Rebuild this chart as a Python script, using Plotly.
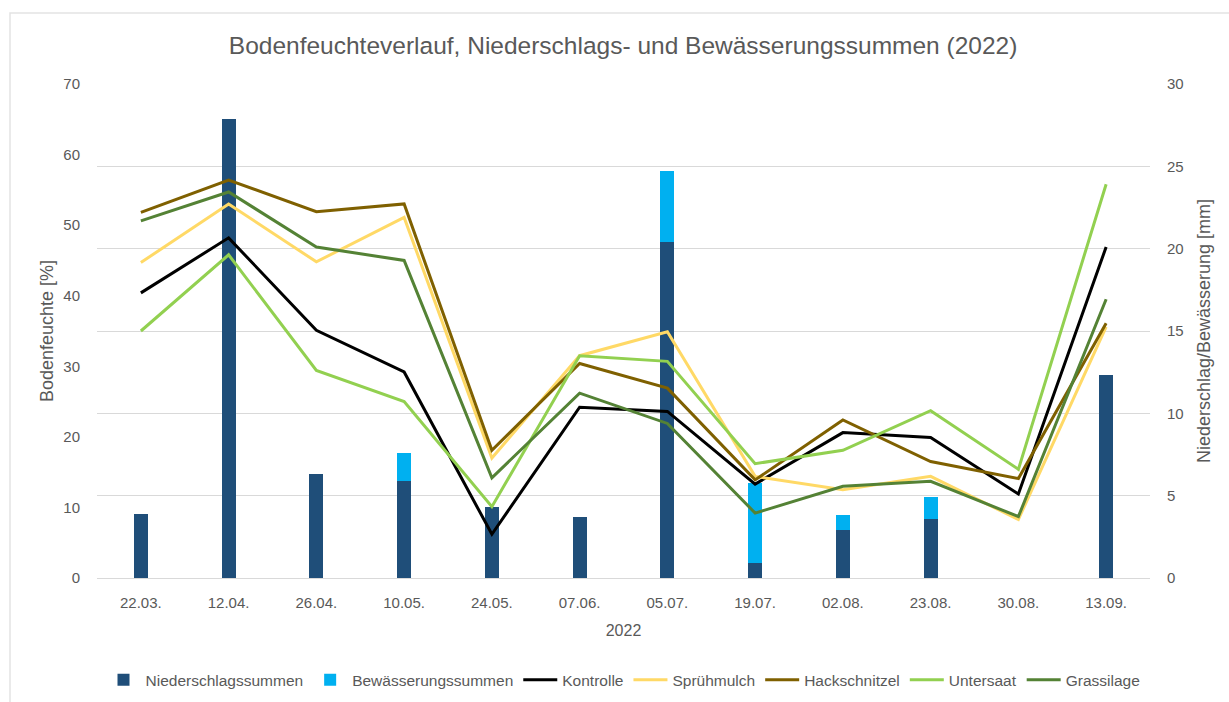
import plotly.graph_objects as go

# Messtermine 2022
termine = ["22.03.", "12.04.", "26.04.", "10.05.", "24.05.", "07.06.",
           "05.07.", "19.07.", "02.08.", "23.08.", "30.08.", "13.09."]

# Summen in mm (rechte Achse)
niederschlag = [3.9, 27.9, 6.3, 5.9, 4.3, 3.7, 20.4, 0.9, 2.9, 3.6, 0.0, 12.3]
bewaesserung = [0.0, 0.0, 0.0, 1.7, 0.0, 0.0, 4.3, 4.85, 0.9, 1.3, 0.0, 0.0]

# Bodenfeuchte in % (linke Achse)
kontrolle = [40.4, 48.2, 35.1, 29.2, 6.2, 24.2, 23.6, 13.3, 20.6, 19.9, 11.9, 46.9]
spruehmulch = [44.7, 53.0, 44.8, 51.1, 17.0, 31.5, 34.9, 14.4, 12.5, 14.4, 8.3, 35.6]
hackschnitzel = [51.8, 56.4, 51.9, 53.0, 18.1, 30.4, 26.9, 13.9, 22.4, 16.5, 14.1, 36.1]
untersaat = [35.0, 45.8, 29.4, 25.0, 10.1, 31.5, 30.7, 16.2, 18.1, 23.7, 15.4, 55.8]
grassilage = [50.6, 54.7, 46.9, 45.0, 14.2, 26.2, 21.9, 9.2, 13.0, 13.7, 8.7, 39.5]

FONT = "Liberation Sans, Arial, sans-serif"
GREY = "#595959"
GRID = "#d9d9d9"

fig = go.Figure()

fig.add_trace(go.Bar(x=termine, y=niederschlag, name="Niederschlagssummen",
                     marker=dict(color="#1f4e79", line=dict(width=0)),
                     width=0.16, yaxis="y"))
fig.add_trace(go.Bar(x=termine, y=bewaesserung, name="Bewässerungssummen",
                     marker=dict(color="#00b0f0", line=dict(width=0)),
                     width=0.16, yaxis="y"))

linien = [
    ("Kontrolle", kontrolle, "#000000"),
    ("Sprühmulch", spruehmulch, "#ffd966"),
    ("Hackschnitzel", hackschnitzel, "#7f6000"),
    ("Untersaat", untersaat, "#92d050"),
    ("Grassilage", grassilage, "#548235"),
]
for name, werte, farbe in linien:
    fig.add_trace(go.Scatter(x=termine, y=werte, name=name, mode="lines",
                             line=dict(color=farbe, width=3),
                             yaxis="y2"))

fig.update_layout(
    width=1229, height=702,
    margin=dict(l=97, r=79, t=84, b=124, autoexpand=False),
    paper_bgcolor="white", plot_bgcolor="white",
    font=dict(family=FONT, color=GREY, size=15),
    barmode="stack",
    bargap=0,
    title=dict(text="Bodenfeuchteverlauf, Niederschlags- und Bewässerungssummen (2022)",
               x=0.507, xanchor="center", y=0.935, yanchor="middle",
               font=dict(family=FONT, size=24.5, color=GREY)),
    xaxis=dict(type="category", showgrid=False, showline=False, zeroline=False,
               ticks="", tickfont=dict(size=15, color=GREY), automargin=False,
               ticklabelstandoff=14,
               title=dict(text="2022", font=dict(size=16, color=GREY), standoff=14)),
    yaxis=dict(side="right", range=[0, 30], dtick=5, showgrid=True,
               gridcolor=GRID, gridwidth=1, zeroline=True, zerolinecolor=GRID,
               zerolinewidth=1, showline=False, ticks="", automargin=False,
               tickfont=dict(size=15, color=GREY), ticklabelstandoff=16,
               title=dict(text="Niederschlag/Bewässerung [mm]",
                          font=dict(size=18, color=GREY), standoff=14)),
    yaxis2=dict(side="left", overlaying="y", range=[0, 70], dtick=10,
                showgrid=False, zeroline=False, showline=False, ticks="",
                automargin=False,
                tickfont=dict(size=15, color=GREY), ticklabelstandoff=16,
                title=dict(text="Bodenfeuchte [%]",
                           font=dict(size=18, color=GREY), standoff=5)),
    legend=dict(orientation="h", x=0.5, xanchor="center", y=-0.207, yanchor="middle",
                font=dict(size=15.5, color=GREY), itemwidth=34,
                traceorder="normal", bgcolor="rgba(0,0,0,0)"),
    shapes=[dict(type="rect", xref="paper", yref="paper",
                 x0=-87 / 1053, x1=1.2, y0=-0.5, y1=1 + 71 / 494,
                 line=dict(color="#e3e3e3", width=1.5), layer="below")],
)

fig.write_html("out.html")
